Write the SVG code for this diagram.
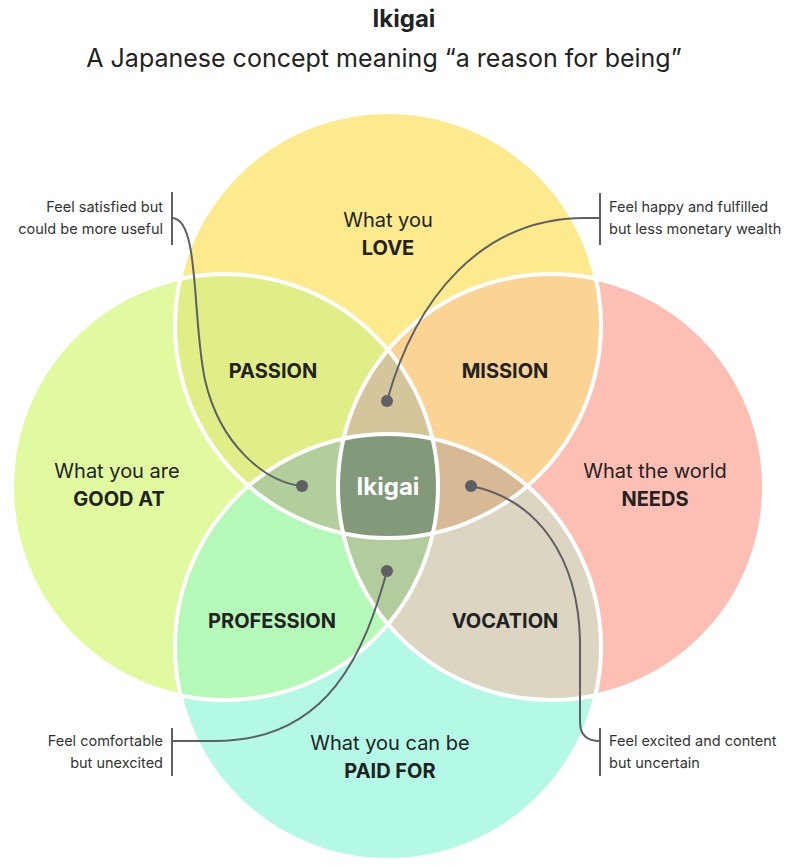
<svg xmlns="http://www.w3.org/2000/svg" width="809" height="865" viewBox="0 0 809 865">
<style>
text{font-family:Inter,"Open Sans","Liberation Sans",sans-serif;fill:#222}
.t{font-size:20px;text-anchor:middle;dominant-baseline:middle}
.b{font-weight:bold}
.n{font-size:14.5px;fill:#333}
.ln{stroke:#5f6066;stroke-width:2;fill:none}
.br{stroke:#5f6066;stroke-width:2}
.o{fill:none;stroke:#fff;stroke-width:4}
</style>
<defs>
<clipPath id="cL"><circle cx="388" cy="325" r="213"/></clipPath>
<clipPath id="cG"><circle cx="225" cy="487" r="213"/></clipPath>
<clipPath id="cN"><circle cx="551" cy="487" r="213"/></clipPath>
<clipPath id="cP"><circle cx="388" cy="647" r="213"/></clipPath>
</defs>
<rect width="809" height="865" fill="#fff"/>
<text x="404" y="20" class="t b" style="font-size:24px">Ikigai</text>
<text x="384" y="60" class="t" style="font-size:25px">A Japanese concept meaning “a reason for being”</text>
<g id="circles">
<circle cx="388" cy="325" r="213" fill="#fcea8c"/>
<circle cx="225" cy="487" r="213" fill="#e1fa9f"/>
<circle cx="551" cy="487" r="213" fill="#fdbfb4"/>
<circle cx="388" cy="647" r="213" fill="#b3f9e5"/>
<g clip-path="url(#cL)"><circle cx="225" cy="487" r="213" fill="#e1ee88"/><circle cx="551" cy="487" r="213" fill="#fbd392"/></g>
<g clip-path="url(#cP)"><circle cx="225" cy="487" r="213" fill="#b5f9b8"/><circle cx="551" cy="487" r="213" fill="#dbd5c1"/></g>
<g clip-path="url(#cG)"><g clip-path="url(#cN)"><circle cx="388" cy="325" r="213" fill="#d5c59b"/><circle cx="388" cy="647" r="213" fill="#b2cc9e"/></g></g>
<g clip-path="url(#cL)"><g clip-path="url(#cP)"><circle cx="225" cy="487" r="213" fill="#b2cf9b"/><circle cx="551" cy="487" r="213" fill="#d7b995"/></g></g>
<g clip-path="url(#cL)"><g clip-path="url(#cP)"><g clip-path="url(#cG)"><circle cx="551" cy="487" r="213" fill="#82997a"/></g></g></g>
<circle class="o" cx="388" cy="325" r="213"/>
<circle class="o" cx="225" cy="487" r="213"/>
<circle class="o" cx="551" cy="487" r="213"/>
<circle class="o" cx="388" cy="647" r="213"/>
</g>
<g id="labels">
<text x="388" y="222" class="t">What you</text><text x="388" y="250" class="t b">LOVE</text>
<text x="117" y="473" class="t">What you are</text><text x="119" y="501" class="t b">GOOD AT</text>
<text x="655" y="473" class="t">What the world</text><text x="655" y="501" class="t b">NEEDS</text>
<text x="390" y="745" class="t">What you can be</text><text x="390" y="773" class="t b">PAID FOR</text>
<text x="273" y="373" class="t b">PASSION</text>
<text x="505" y="373" class="t b">MISSION</text>
<text x="272" y="623" class="t b">PROFESSION</text>
<text x="505" y="623" class="t b">VOCATION</text>
<text x="388" y="488" class="t b" style="font-size:24px;fill:#fff">Ikigai</text>
</g>
<g id="connectors">
<path class="ln" d="M172,218 C200,218 192,320 205,380 C220,445 265,482 302,486"/>
<path class="ln" d="M600,218 L585,218 C480,218 415,300 387,401"/>
<path class="ln" d="M172,741 L215,741 C330,741 365,650 387,571"/>
<path class="ln" d="M471,486 C540,500 578,560 580,640 L580,722 C580,736 588,741 600,741"/>
<line class="br" x1="172" y1="192" x2="172" y2="245"/>
<line class="br" x1="600" y1="193" x2="600" y2="245"/>
<line class="br" x1="172" y1="728" x2="172" y2="776"/>
<line class="br" x1="600" y1="728" x2="600" y2="776"/>
<g fill="#5f6066"><circle cx="302" cy="486" r="6"/><circle cx="387" cy="401" r="6"/><circle cx="387" cy="571" r="6"/><circle cx="471" cy="486" r="6"/></g>
</g>
<g id="notes">
<text x="163" y="212" class="n" text-anchor="end">Feel satisfied but</text>
<text x="163" y="234" class="n" text-anchor="end">could be more useful</text>
<text x="609" y="212" class="n">Feel happy and fulfilled</text>
<text x="609" y="234" class="n">but less monetary wealth</text>
<text x="163" y="746" class="n" text-anchor="end">Feel comfortable</text>
<text x="163" y="768" class="n" text-anchor="end">but unexcited</text>
<text x="609" y="746" class="n">Feel excited and content</text>
<text x="609" y="768" class="n">but uncertain</text>
</g>
</svg>
